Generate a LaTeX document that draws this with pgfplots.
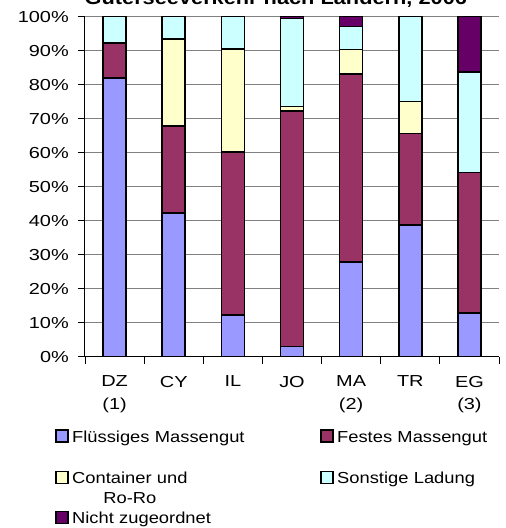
\documentclass[border=0pt]{standalone}
\usepackage{fontspec}
\setmainfont{Liberation Sans}[FakeStretch=1.15]
\newfontfamily\tickfont{Liberation Sans}[FakeStretch=1.25]
\usepackage{pgfplots}
\usepackage{pgfplotstable}
\pgfplotsset{compat=1.18}

\definecolor{fluessig}{HTML}{9999FF}
\definecolor{festes}{HTML}{993366}
\definecolor{container}{HTML}{FFFFCC}
\definecolor{sonstige}{HTML}{CCFFFF}
\definecolor{nicht}{HTML}{660066}

% shares in %, countries DZ CY IL JO MA TR EG
\pgfplotstableread{
idx fl   fe   co   so   ni
0   82.0 10.3 0    7.7  0
1   42.2 25.6 25.6 6.6  0
2   12.3 47.9 30.3 9.5  0
3   3.0  69.2 1.4  25.8 0.6
4   27.8 55.3 7.3  6.7  2.9
5   38.8 26.8 9.4  25.0 0
6   12.8 41.4 0    29.6 16.2
}\shares

\begin{document}
\begin{tikzpicture}
\begin{axis}[
    name=ax,
    scale only axis,
    width=414bp, height=340bp,
    ybar stacked,
    bar width=23bp,
    xmin=-0.5, xmax=6.5,
    ymin=0, ymax=100,
    axis x line=bottom, axis y line=left,
    x axis line style={-}, y axis line style={-},
    axis line style={line width=1bp},
    tick align=outside,
    major tick length=7bp,
    tick style={black, line width=0.8bp},
    xtick={-0.5,0.5,...,6.5},
    xticklabels={},
    extra x ticks={0,1,...,6},
    extra x tick labels={{DZ\\(1)},CY,IL,JO,{MA\\(2)},TR,{EG\\(3)}},
    extra x tick style={major tick length=0pt,
        xticklabel style={align=center, anchor=north, inner sep=0pt, yshift=-19bp}},
    ytick={0,10,...,100},
    yticklabels={0\%,10\%,20\%,30\%,40\%,50\%,60\%,70\%,80\%,90\%,100\%},
    yticklabel style={anchor=east, inner sep=0pt, xshift=-9bp},
    tick label style={font=\tickfont\fontsize{16}{23}\selectfont},
    ymajorgrids,
    major grid style={color=gray, line width=1bp},
    every axis plot/.append style={draw=black, line width=1.5bp},
    title={Güterseeverkehr nach Ländern, 2006},
    every axis title shift=0pt,
    title style={font=\bfseries\fontsize{19}{22}\selectfont, at={(0.461,1)}, anchor=base, yshift=11.7bp},
    legend columns=2,
    legend image code/.code={\draw[#1, line width=1.5bp] (0bp,0bp) rectangle (12bp,12bp);},
    legend style={draw=none, fill=none, at={(-0.0725,-0.213)}, anchor=north west,
        inner sep=0pt, row sep=25.8bp,
        font=\fontsize{16}{20}\selectfont,
        cells={anchor=base west},
        nodes={inner sep=0pt, text width=248bp, align=left},
        /tikz/every odd column/.append style={column sep=3.5bp}},
]
\addplot[fill=fluessig] table[x=idx, y=fl] {\shares};
\addlegendentry{Flüssiges Massengut}
\addplot[fill=festes] table[x=idx, y=fe] {\shares};
\addlegendentry{Festes Massengut}
\addplot[fill=container] table[x=idx, y=co] {\shares};
\addlegendentry{\raisebox{0pt}[\height][0pt]{\begin{tabular}[t]{@{}c@{}}Container und\\Ro-Ro\end{tabular}}}
\addplot[fill=sonstige] table[x=idx, y=so] {\shares};
\addlegendentry{Sonstige Ladung}
\addplot[fill=nicht] table[x=idx, y=ni] {\shares};
\addlegendentry{Nicht zugeordnet}
\end{axis}
\pgfresetboundingbox
\path[use as bounding box] ([xshift=-85bp,yshift=-171.3bp]ax.south west) rectangle ([xshift=7bp,yshift=16.7bp]ax.north east);
\end{tikzpicture}
\end{document}
